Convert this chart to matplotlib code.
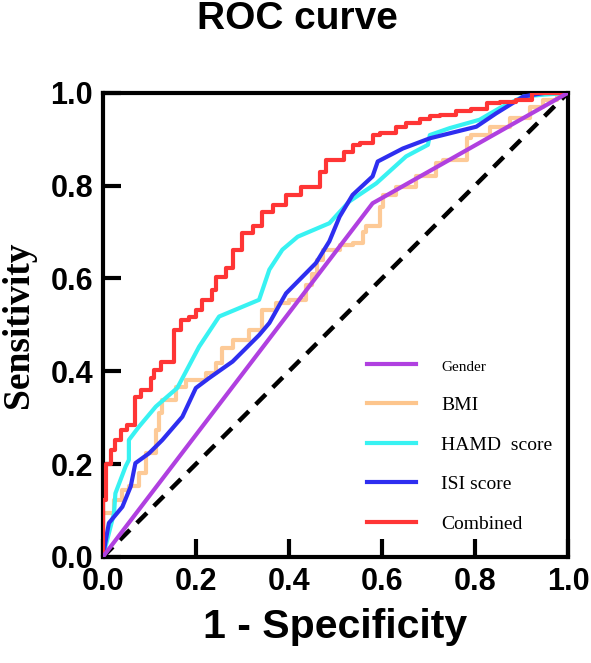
import matplotlib
matplotlib.use("Agg")
import matplotlib.pyplot as plt
from matplotlib.lines import Line2D

# ROC curves (x = 1 - specificity, y = sensitivity)
gender_x = [0, 0.58, 1]
gender_y = [0, 0.762, 1]

bmi_x = [0, 0, 0.024, 0.042, 0.056, 0.078, 0.092, 0.114, 0.121, 0.128, 0.157, 0.178,
         0.221, 0.243, 0.257, 0.279, 0.315, 0.343, 0.372, 0.4, 0.437, 0.45, 0.46,
         0.473, 0.509, 0.537, 0.559, 0.566, 0.595, 0.603, 0.631, 0.674, 0.717, 0.731,
         0.782, 0.792, 0.832, 0.875, 0.918, 0.947, 0.976, 1]
bmi_y = [0, 0.065, 0.094, 0.123, 0.144, 0.152, 0.18, 0.223, 0.274, 0.31, 0.338, 0.367,
         0.381, 0.396, 0.417, 0.45, 0.468, 0.489, 0.532, 0.547, 0.554, 0.585, 0.61,
         0.64, 0.662, 0.672, 0.676, 0.701, 0.712, 0.755, 0.78, 0.798, 0.82, 0.848,
         0.856, 0.902, 0.909, 0.927, 0.945, 0.97, 0.985, 1]

hamd_x = [0, 0.024, 0.027, 0.038, 0.049, 0.056, 0.056, 0.078, 0.114, 0.16, 0.207, 0.25,
          0.336, 0.358, 0.386, 0.419, 0.487, 0.53, 0.588, 0.652, 0.699, 0.703, 0.746,
          0.81, 0.853, 0.904, 0.947, 1]
hamd_y = [0, 0.094, 0.137, 0.166, 0.195, 0.209, 0.252, 0.281, 0.324, 0.364, 0.453, 0.518,
          0.554, 0.619, 0.662, 0.69, 0.719, 0.766, 0.805, 0.863, 0.888, 0.909, 0.924,
          0.942, 0.967, 0.992, 0.996, 1]

isi_x = [0, 0.013, 0.042, 0.06, 0.07, 0.099, 0.128, 0.171, 0.2, 0.228, 0.279, 0.336,
         0.358, 0.386, 0.394, 0.458, 0.487, 0.509, 0.537, 0.58, 0.591, 0.645, 0.703,
         0.803, 0.846, 0.904, 0.95, 1]
isi_y = [0, 0.073, 0.108, 0.152, 0.202, 0.223, 0.252, 0.302, 0.364, 0.385, 0.421, 0.478,
         0.504, 0.554, 0.568, 0.633, 0.68, 0.733, 0.78, 0.82, 0.852, 0.88, 0.902,
         0.927, 0.956, 0.992, 1.0, 1]

comb_x = [0, 0.006, 0.017, 0.027, 0.038, 0.052, 0.07, 0.081, 0.103, 0.11, 0.124, 0.153,
          0.167, 0.185, 0.2, 0.213, 0.235, 0.243, 0.264, 0.279, 0.3, 0.322, 0.343,
          0.365, 0.394, 0.426, 0.466, 0.48, 0.519, 0.537, 0.552, 0.58, 0.595, 0.631,
          0.652, 0.681, 0.703, 0.724, 0.76, 0.792, 0.825, 0.853, 0.889, 0.922, 1]
comb_y = [0, 0.123, 0.2, 0.23, 0.252, 0.274, 0.284, 0.345, 0.36, 0.386, 0.403, 0.421,
          0.489, 0.51, 0.518, 0.532, 0.554, 0.575, 0.604, 0.622, 0.662, 0.698, 0.712,
          0.744, 0.759, 0.78, 0.798, 0.83, 0.856, 0.873, 0.888, 0.891, 0.909, 0.913,
          0.927, 0.935, 0.943, 0.949, 0.953, 0.96, 0.965, 0.978, 0.981, 0.985, 1]

labels = ["Gender", "BMI", "HAMD  score", "ISI score", "Combined"]
colors = ["#B040E0", "#FDC58C", "#38F2F2", "#2E2EF0", "#FF3535"]
ticks = [0.0, 0.2, 0.4, 0.6, 0.8, 1.0]

fig = plt.figure(figsize=(5.91, 6.63), dpi=100)
ax = fig.add_axes([0.174, 0.160, 0.787, 0.700])

ax.plot([0, 1], [0, 1], color="black", linestyle=(0, (3.2, 2.2)), linewidth=3.2, zorder=1)
ax.plot(bmi_x, bmi_y, color=colors[1], linewidth=3, alpha=0.9,
        drawstyle="steps-pre", zorder=2)
ax.plot(hamd_x, hamd_y, color=colors[2], linewidth=3, zorder=3)
ax.plot(isi_x, isi_y, color=colors[3], linewidth=3, zorder=4)
ax.plot(comb_x, comb_y, color=colors[4], linewidth=3, drawstyle="steps-pre", zorder=5)
ax.plot(gender_x, gender_y, color=colors[0], linewidth=3, zorder=6)

ax.set_xlim(0, 1)
ax.set_ylim(0, 1)
ax.set_xticks(ticks)
ax.set_yticks(ticks)
ax.set_xticklabels([f"{t:.1f}" for t in ticks])
ax.set_yticklabels([f"{t:.1f}" for t in ticks])
for s in ax.spines.values():
    s.set_linewidth(3)
ax.tick_params(direction="in", length=13, width=3, pad=7, labelsize=22)
for lab in ax.get_xticklabels() + ax.get_yticklabels():
    lab.set_family("Liberation Sans")
    lab.set_fontweight("bold")

ax.set_xlabel("1 - Specificity", family="Liberation Sans", fontweight="bold",
              fontsize=29.5, labelpad=8)
ax.set_ylabel("Sensitivity", family="Liberation Serif", fontweight="bold",
              fontsize=27, labelpad=10)
fig.text(0.503, 0.971, "ROC curve", family="Liberation Sans", fontweight="bold",
         fontsize=28, ha="center", va="center")

handles = [Line2D([], [], color=c, linewidth=3) for c in colors]
leg = ax.legend(handles, labels, loc="upper left", bbox_to_anchor=(0.568, 0.43),
                frameon=False, borderpad=0, borderaxespad=0, handlelength=2.5,
                handletextpad=1.3, labelspacing=1.14,
                prop={"family": "Liberation Serif", "size": 14})
leg.get_texts()[0].set_fontsize(11)

fig.savefig("out.png", dpi=100)
